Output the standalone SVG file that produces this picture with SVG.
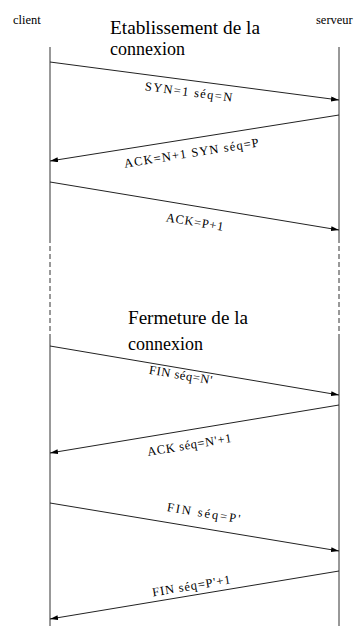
<svg xmlns="http://www.w3.org/2000/svg" width="358" height="626" viewBox="0 0 358 626">
<defs>
<style>
.life{stroke:#333;stroke-width:1;fill:none}
.dash{stroke:#333;stroke-width:1;fill:none;stroke-dasharray:5 3}
.msg{stroke:#222;stroke-width:1;fill:none;marker-end:url(#ah)}
text{font-family:'Liberation Serif','Times New Roman','DejaVu Serif',serif;fill:#000}
.lbl{font-size:12.5px;text-anchor:middle}
.ttl{font-size:18px}
.act{font-size:12.5px}
</style>
<marker id="ah" markerUnits="userSpaceOnUse" markerWidth="9" markerHeight="6" refX="8" refY="2.5" orient="auto">
<path d="M0,0 L8,2.5 L0,5 z" fill="#000"/>
</marker>
</defs>
<rect width="358" height="626" fill="#fff"/>
<g id="client">
<text class="act" x="13" y="24" font-family="Liberation Serif, serif">client</text>
<line class="life" x1="50" y1="47" x2="50" y2="243"/>
<line class="dash" x1="50" y1="246" x2="50" y2="337"/>
<line class="life" x1="50" y1="337" x2="50" y2="626"/>
</g>
<g id="serveur">
<text class="act" x="316" y="24" font-family="Liberation Serif, serif">serveur</text>
<line class="life" x1="339" y1="47" x2="339" y2="243"/>
<line class="dash" x1="339" y1="246" x2="339" y2="337"/>
<line class="life" x1="339" y1="337" x2="339" y2="626"/>
</g>
<g id="titre-etablissement" font-family="Liberation Serif, serif">
<text class="ttl" x="110" y="34" textLength="150" lengthAdjust="spacingAndGlyphs">Etablissement de la</text>
<text class="ttl" x="110" y="55">connexion</text>
</g>
<g id="titre-fermeture" font-family="Liberation Serif, serif">
<text class="ttl" x="128" y="324" textLength="120" lengthAdjust="spacingAndGlyphs">Fermeture de la</text>
<text class="ttl" x="128" y="350">connexion</text>
</g>
<g id="connectors">
<line class="msg" x1="50" y1="62" x2="339" y2="100"/>
<line class="msg" x1="339" y1="115" x2="50" y2="161"/>
<line class="msg" x1="50" y1="182" x2="339" y2="230"/>
<line class="msg" x1="50" y1="346" x2="339" y2="395"/>
<line class="msg" x1="339" y1="405" x2="50" y2="453"/>
<line class="msg" x1="50" y1="503" x2="339" y2="551"/>
<line class="msg" x1="339" y1="571" x2="50" y2="619"/>
</g>
<g id="labels" font-family="Liberation Serif, serif">
<text class="lbl" x="188" y="96" transform="rotate(7.5 188 96)" textLength="88" lengthAdjust="spacing">SYN=1 séq=N</text>
<text class="lbl" x="192" y="157" transform="rotate(-9 192 157)" textLength="136" lengthAdjust="spacing">ACK=N+1 SYN séq=P</text>
<text class="lbl" x="194" y="226" transform="rotate(9.4 194 226)" textLength="58" lengthAdjust="spacing">ACK=P+1</text>
<text class="lbl" x="180" y="379" transform="rotate(9.6 180 379)" textLength="64" lengthAdjust="spacing">FIN séq=N'</text>
<text class="lbl" x="190" y="449" transform="rotate(-9.4 190 449)" textLength="85" lengthAdjust="spacing">ACK séq=N'+1</text>
<text class="lbl" x="203" y="517" transform="rotate(9.4 203 517)" textLength="74" lengthAdjust="spacing">FIN séq=P'</text>
<text class="lbl" x="192" y="590" transform="rotate(-9.4 192 590)" textLength="79" lengthAdjust="spacing">FIN séq=P'+1</text>
</g>
</svg>
